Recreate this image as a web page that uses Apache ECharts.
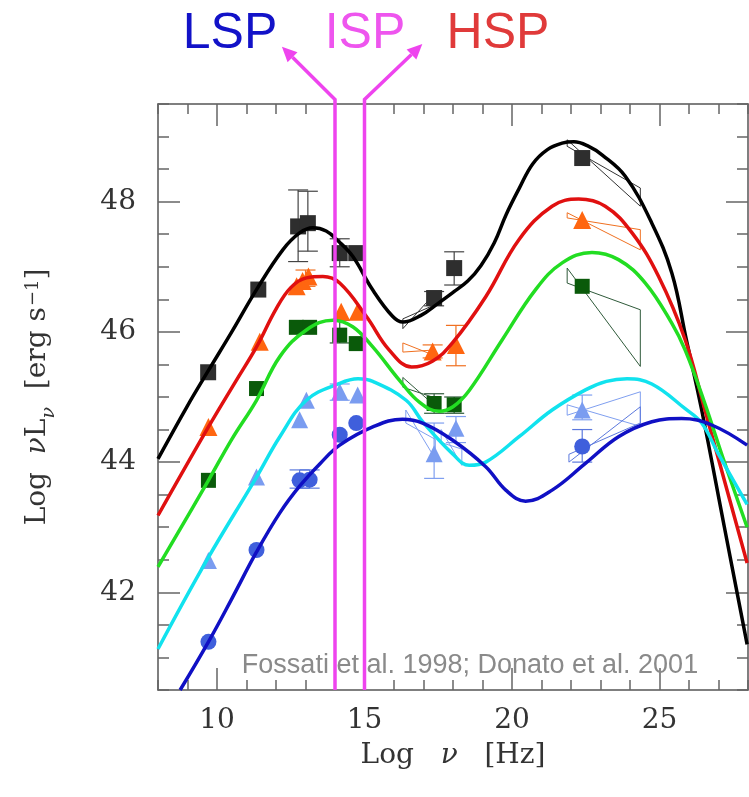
<!DOCTYPE html>
<html><head><meta charset="utf-8">
<script src="https://cdn.jsdelivr.net/npm/echarts@6/dist/echarts.min.js"></script>
<style>html,body{margin:0;padding:0;background:#fff}#c{width:749px;height:797px}</style>
</head><body><div id="c"></div>
<script>
// ---------- axis ticks ----------
const xMajorTicks = [10, 15, 20, 25];
const yMajorTicks = [42, 44, 46, 48];

// ---------- model curves (log nu, log nuL_nu) ----------
const curveBlack = [[8.0,44.05],[8.98,44.85],[9.7,45.4],[10.5,46.0],[11.34,46.65],[12.23,47.26],[12.8,47.52],[13.25,47.6],[13.7,47.55],[14.1,47.4],[14.6,47.16],[15.27,46.65],[15.95,46.24],[16.3,46.15],[16.9,46.25],[17.53,46.45],[17.98,46.6],[18.5,46.78],[18.95,47.02],[19.4,47.37],[19.8,47.8],[20.24,48.2],[20.7,48.58],[21.2,48.8],[21.7,48.9],[22.1,48.92],[22.6,48.85],[23.05,48.72],[23.84,48.39],[24.74,47.67],[25.42,46.9],[25.91,45.88],[26.43,44.8],[27.2,43.0],[27.97,41.2]];
const curveRed = [[8.0,43.18],[9.71,44.54],[10.66,45.26],[11.34,45.77],[12.0,46.35],[12.5,46.68],[13.03,46.83],[13.59,46.85],[14.16,46.75],[15.06,46.24],[15.84,45.72],[16.6,45.46],[17.3,45.55],[17.98,45.83],[19.11,46.54],[20.24,47.42],[21.36,47.93],[22.26,48.04],[23.16,47.93],[24.07,47.52],[24.97,46.85],[25.87,45.88],[26.54,44.8],[27.97,42.45]];
const curveGreen = [[8.0,42.39],[9.71,43.72],[10.5,44.35],[11.34,44.95],[12.13,45.62],[13.03,46.03],[13.93,46.18],[14.6,46.08],[15.28,45.77],[16.18,45.26],[16.86,44.92],[17.53,44.78],[18.0,44.85],[18.55,45.1],[19.67,45.88],[20.8,46.65],[21.7,47.06],[22.71,47.22],[23.61,47.11],[24.52,46.75],[25.42,46.13],[25.87,45.72],[26.5,44.95],[27.2,44.0],[27.97,43.0]];
const curveCyan = [[8.0,41.13],[9.65,42.49],[11.34,43.77],[12.13,44.39],[13.03,44.95],[14.16,45.21],[14.78,45.28],[15.28,45.24],[16.41,44.95],[16.97,44.62],[17.98,44.13],[18.55,43.95],[19.11,44.0],[20.24,44.39],[21.36,44.8],[22.49,45.11],[23.2,45.24],[23.9,45.28],[24.74,45.2],[25.87,44.82],[26.43,44.6],[26.99,44.13],[27.97,43.35]];
const curveBlue = [[8.75,40.5],[9.71,41.24],[10.5,41.9],[11.34,42.62],[12.13,43.22],[12.8,43.63],[13.5,43.98],[14.16,44.26],[15.28,44.54],[16.29,44.66],[16.97,44.6],[17.98,44.34],[19.11,43.93],[19.79,43.57],[20.46,43.4],[21.36,43.57],[22.49,43.98],[23.61,44.39],[24.74,44.62],[25.75,44.67],[26.77,44.57],[27.97,44.26]];

// ---------- data points ----------
const ptsBlack = [[9.7,45.38],[11.4,46.65],[12.75,47.62],[13.08,47.67],[14.16,47.21],[14.72,47.21],[17.36,46.52],[18.04,46.98],[22.38,48.67]];
const ptsOrange = [[9.71,44.54],[11.45,45.85],[12.7,46.7],[12.9,46.78],[13.1,46.85],[14.21,46.31],[14.77,46.31],[17.31,45.7],[18.1,45.8],[22.38,47.72]];
const ptsGreen = [[9.71,43.72],[11.34,45.13],[12.69,46.07],[13.14,46.07],[14.16,45.95],[14.72,45.82],[17.36,44.9],[18.04,44.88],[22.38,46.7]];
const ptsLightBlue = [[9.71,42.49],[11.34,43.77],[12.8,44.65],[13.03,44.95],[14.16,45.08],[14.77,45.03],[17.36,44.13],[18.1,44.52],[22.38,44.8]];
const ptsBlue = [[9.71,41.24],[11.34,42.65],[12.8,43.72],[13.14,43.73],[14.16,44.42],[14.72,44.6],[22.38,44.24]];

// ---------- error bars [x, low, high] ----------
const errBlack = [[12.75,47.08,48.18],[13.08,47.24,48.16],[14.16,47.0,47.43],[17.36,46.4,46.62],[18.04,46.72,47.23]];
const errOrange = [[17.31,45.6,45.8],[18.1,45.48,46.1],[13.0,46.7,46.95]];
const errGreen = [[14.16,45.83,46.18],[17.36,44.75,45.05],[18.04,44.75,45.0]];
const errLightBlue = [[17.36,43.75,44.6],[22.38,44.65,45.03],[14.16,44.95,45.2],[18.1,44.3,44.7]];
const errBlue = [[22.38,44.0,44.5],[12.8,43.6,43.88],[13.14,43.6,43.88]];

// ---------- spectral bowties [x1, yA1, yB1, x2, yA2, yB2] ----------
const bowBlack = [[21.87,48.95,48.85,24.35,47.93,48.21],[16.3,46.05,46.2,17.3,46.55,46.4]];
const bowOrange = [[21.87,47.83,47.75,24.35,47.26,47.57],[16.3,45.83,45.69,17.3,45.65,45.72]];
const bowGreen = [[21.87,46.98,46.75,24.35,45.47,46.34],[16.3,45.3,45.15,17.3,44.9,45.0]];
const bowLightBlue = [[21.87,44.88,44.72,24.35,44.55,45.08],[16.4,44.8,44.6,17.4,44.05,44.35],[17.6,44.5,44.3,18.3,43.95,44.2]];
const bowBlue = [[21.93,44.0,44.12,24.35,44.85,44.6]];

// ---------- ISP band arrows [baseX, bottomY, bendY, tipX, tipY] ----------
const arrowBaseX = [14, 15];
const arrowBendY = [49.57, 49.57];
const arrowTipX = [12.2, 16.96];
const arrowTipY = [50.38, 50.42];

const classLabels = ['LSP', 'ISP', 'HSP'];
const creditText = 'Fossati et al. 1998; Donato et al. 2001';

// ================================================================
const chart = echarts.init(document.getElementById('c'), null, {renderer: 'canvas'});
const serif = 'DejaVu Serif';
const axisCol = '#555';
const tickStyle = {color: '#666', width: 1.5};

function bowSeries(arr, color) {
  return arr.map(b => ({
    type: 'line', xAxisIndex: 0, yAxisIndex: 0, z: 2, silent: true,
    symbol: 'none', animation: false,
    lineStyle: {color: color, width: 1},
    data: [[b[0], b[1]], [b[3], b[4]], [b[3], b[5]], [b[0], b[2]], [b[0], b[1]]]
  }));
}
function errSeries(arr, color) {
  return {
    type: 'custom', xAxisIndex: 0, yAxisIndex: 0, z: 2, silent: true, animation: false,
    data: arr,
    renderItem: function (params, api) {
      const lo = api.coord([api.value(0), api.value(1)]);
      const hi = api.coord([api.value(0), api.value(2)]);
      const w = 10;
      const st = {stroke: color, lineWidth: 1.2};
      return {type: 'group', children: [
        {type: 'line', shape: {x1: lo[0], y1: lo[1], x2: hi[0], y2: hi[1]}, style: st},
        {type: 'line', shape: {x1: lo[0] - w, y1: lo[1], x2: lo[0] + w, y2: lo[1]}, style: st},
        {type: 'line', shape: {x1: hi[0] - w, y1: hi[1], x2: hi[0] + w, y2: hi[1]}, style: st}
      ]};
    }
  };
}
function curve(data, color) {
  return {type: 'line', xAxisIndex: 0, yAxisIndex: 0, z: 4, data: data, smooth: 0.4,
    symbol: 'none', animation: false, silent: true,
    lineStyle: {color: color, width: 3.5}};
}
function pts(data, symbol, size, color) {
  return {type: 'scatter', xAxisIndex: 0, yAxisIndex: 0, z: 3, data: data, symbol: symbol,
    symbolSize: size, animation: false, silent: true, itemStyle: {color: color, opacity: 1}};
}

const arrowData = arrowBaseX.map((x, i) => [x, 40.5, arrowBendY[i], arrowTipX[i], arrowTipY[i]]);
const magenta = '#ee44ee';

const majorX = (pos, labels) => ({
  type: 'value', min: 8, max: 28, position: pos,
  axisLine: {show: true, onZero: false, lineStyle: {color: axisCol, width: 1.5}},
  axisTick: {show: true, inside: true, length: 22, customValues: xMajorTicks, lineStyle: tickStyle},
  axisLabel: {show: labels, customValues: xMajorTicks, margin: 17, fontFamily: serif, fontSize: 28, color: '#333'},
  splitLine: {show: false}
});
const minorX = (pos) => ({
  type: 'value', min: 8, max: 28, interval: 1, position: pos,
  axisLine: {show: false, onZero: false},
  axisTick: {show: true, inside: true, length: 10, lineStyle: tickStyle},
  axisLabel: {show: false}, splitLine: {show: false}
});
const majorY = (pos, labels) => ({
  type: 'value', min: 40.5, max: 49.5, position: pos,
  axisLine: {show: true, onZero: false, lineStyle: {color: axisCol, width: 1.5}},
  axisTick: {show: true, inside: true, length: 22, customValues: yMajorTicks, lineStyle: tickStyle},
  axisLabel: {show: labels, customValues: yMajorTicks, margin: 22, fontFamily: serif, fontSize: 28, color: '#333'},
  splitLine: {show: false}
});
const minorY = (pos) => ({
  type: 'value', min: 40.5, max: 49.5, interval: 0.5, position: pos,
  axisLine: {show: false, onZero: false},
  axisTick: {show: true, inside: true, length: 11, lineStyle: tickStyle},
  axisLabel: {show: false}, splitLine: {show: false}
});

const xa0 = majorX('bottom', true);
xa0.name = 'Log   {i|ν}   [Hz]';
xa0.nameLocation = 'middle';
xa0.nameGap = 52;
xa0.nameTextStyle = {fontFamily: serif, fontSize: 28, color: '#333',
  rich: {i: {fontFamily: serif, fontStyle: 'italic', fontSize: 28, color: '#333'}}};

const ya0 = majorY('left', true);
ya0.name = '{a|Log  }{i|ν}{a|L}{sub|ν}{a|  [erg s}{sup|−1}{a|]}';
ya0.nameLocation = 'middle';
ya0.nameRotate = 90;
ya0.nameGap = 104;
const nm = {fontFamily: serif, fontSize: 28, color: '#333', lineHeight: 30, verticalAlign: 'top'};
ya0.nameTextStyle = {rich: {
  a: nm,
  i: Object.assign({}, nm, {fontStyle: 'italic'}),
  sub: {fontFamily: serif, fontStyle: 'italic', fontSize: 19, color: '#333', lineHeight: 19, padding: [16, 0, 0, 0], verticalAlign: 'top'},
  sup: {fontFamily: serif, fontSize: 18, color: '#333', lineHeight: 18, padding: [0, 0, 0, 1], verticalAlign: 'top'}
}};

const series = [].concat(
  bowSeries(bowBlack, '#333333'),
  bowSeries(bowOrange, '#f07020'),
  bowSeries(bowGreen, '#2f5a3a'),
  bowSeries(bowLightBlue, '#7f9ff0'),
  bowSeries(bowBlue, '#5b78dd'),
  [errSeries(errBlack, '#444'), errSeries(errOrange, '#f07020'), errSeries(errGreen, '#2f5a3a'),
   errSeries(errLightBlue, '#7f9ff0'), errSeries(errBlue, '#5b78dd')],
  [pts(ptsBlack, 'rect', 16, '#2e2e2e'),
   pts(ptsOrange, 'triangle', 18, '#ff6610'),
   pts(ptsGreen, 'rect', 15, '#0a5a0a'),
   pts(ptsLightBlue, 'triangle', 17, '#7a9cf0'),
   pts(ptsBlue, 'circle', 16, '#3f5fdc')],
  [curve(curveBlack, '#000000'), curve(curveRed, '#e01010'), curve(curveGreen, '#22dd22'),
   curve(curveCyan, '#11e2ee'), curve(curveBlue, '#1010c4')],
  [{
    type: 'custom', xAxisIndex: 0, yAxisIndex: 0, z: 10, clip: false, silent: true, animation: false,
    data: arrowData,
    renderItem: function (params, api) {
      const p0 = api.coord([api.value(0), api.value(1)]);
      const p1 = api.coord([api.value(0), api.value(2)]);
      const p2 = api.coord([api.value(3), api.value(4)]);
      const dx = p2[0] - p1[0], dy = p2[1] - p1[1];
      const L = Math.sqrt(dx * dx + dy * dy);
      const ux = dx / L, uy = dy / L;
      const hl = 15, hw = 7;
      const b = [p2[0] - ux * hl, p2[1] - uy * hl];
      return {type: 'group', children: [
        {type: 'polyline', shape: {points: [p0, p1, b]}, style: {stroke: magenta, lineWidth: 3.5, fill: null}},
        {type: 'polygon', shape: {points: [p2, [b[0] - uy * hw, b[1] + ux * hw], [b[0] + uy * hw, b[1] - ux * hw]]},
          style: {fill: magenta}}
      ]};
    }
  }]
);

const labelColors = ['#1212c8', '#ee55ee', '#e03a3a'];
const labelCx = [230, 365, 498];

chart.setOption({
  backgroundColor: '#fff',
  animation: false,
  grid: {left: 158, top: 104, right: 1, bottom: 107, containLabel: false},
  xAxis: [xa0, majorX('top', false), minorX('bottom'), minorX('top')],
  yAxis: [ya0, majorY('right', false), minorY('left'), minorY('right')],
  series: series,
  graphic: classLabels.map((t, i) => ({
    type: 'text', x: labelCx[i], y: 34, z: 20,
    style: {text: t, fill: labelColors[i], font: '50px "Liberation Sans", Arial, sans-serif',
      textAlign: 'center', textVerticalAlign: 'middle'}
  })).concat([{
    type: 'text', x: 470, y: 666, z: 1,
    style: {text: creditText, fill: '#8a8a8a', font: '27px "Liberation Sans", Arial, sans-serif',
      textAlign: 'center', textVerticalAlign: 'middle'}
  }])
});
</script>
</body></html>
